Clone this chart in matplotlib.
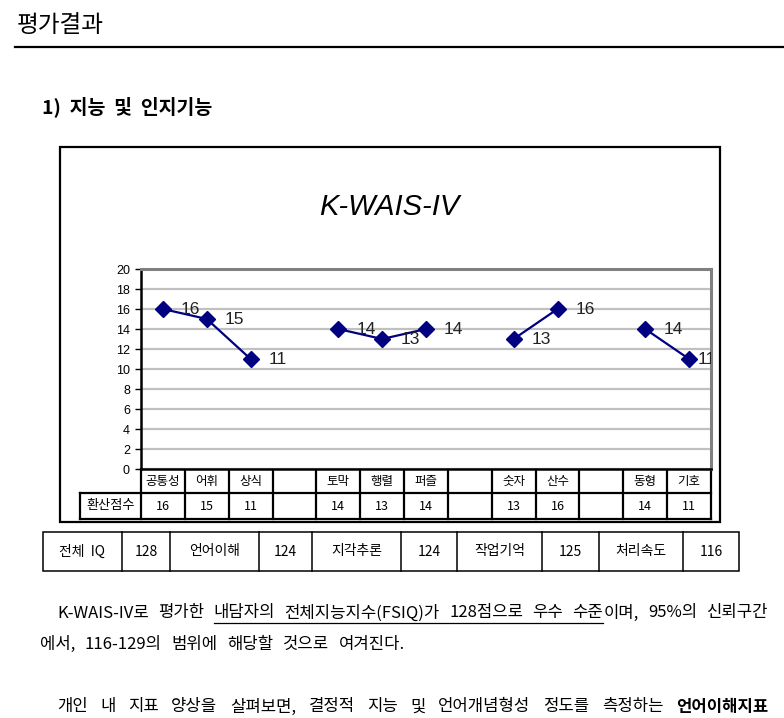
import numpy as np
import matplotlib.pyplot as plt
from matplotlib.patches import Rectangle

plt.rcParams['font.family'] = ['Noto Sans CJK KR', 'DejaVu Sans']

# data
subtests = ['공통성', '어휘', '상식', '', '토막', '행렬', '퍼즐', '', '숫자', '산수', '', '동형', '기호']
scaled = [16, 15, 11, None, 14, 13, 14, None, 13, 16, None, 14, 11]
index_names = ['전체  IQ', '언어이해', '지각추론', '작업기억', '처리속도']
index_scores = [128, 124, 124, 125, 116]

W, H = 784, 718
fig = plt.figure(figsize=(W / 100, H / 100), dpi=100)

# page layer in pixel coordinates
page = fig.add_axes([0, 0, 1, 1])
page.set_xlim(0, W)
page.set_ylim(H, 0)
page.axis('off')

page.text(17, 25, '평가결과', fontsize=17, va='center', ha='left')
page.plot([15, W], [47, 47], color='black', lw=1.6)
page.text(42, 107, '1)  지능  및  인지기능', fontsize=14, fontweight='bold', va='center', ha='left')

# chart frame
page.add_patch(Rectangle((60, 147), 660, 375, fill=False, ec='black', lw=1.6))
page.text(389, 207, 'K-WAIS-IV', fontsize=21, style='italic', family='Liberation Sans',
          ha='center', va='center')

# line chart
x0, x1, ytop, ybot = 141, 711, 269, 469
n = len(subtests)
ax = fig.add_axes([x0 / W, 1 - ybot / H, (x1 - x0) / W, (ybot - ytop) / H])
ax.set_xlim(-0.5, n - 0.5)
ax.set_ylim(0, 20)
ax.set_yticks(range(0, 21, 2))
ax.set_xticks([])
ax.grid(axis='y', color='#c0c0c0', lw=1.6)
ax.set_axisbelow(True)
for side in ['top', 'right']:
    ax.spines[side].set_color('#808080')
    ax.spines[side].set_linewidth(2.2)
for side in ['left', 'bottom']:
    ax.spines[side].set_color('black')
    ax.spines[side].set_linewidth(1.8)
ax.tick_params(axis='y', length=4, width=1, pad=4, labelsize=9)
for lab in ax.get_yticklabels():
    lab.set_family('Liberation Sans')

y = np.array([np.nan if v is None else v for v in scaled], dtype=float)
ax.plot(range(n), y, color='#000080', lw=1.6, marker='D', ms=8, zorder=3)
for i, v in enumerate(scaled):
    if v is None:
        continue
    off = 13 if i < n - 1 else 6
    ax.annotate(str(v), (i, v), xytext=(off, 0), textcoords='offset points',
                fontsize=12.5, family='Liberation Sans', color='#222222',
                ha='left', va='center', annotation_clip=False, clip_on=True)

# data table under the chart
cw = (x1 - x0) / n
r1, r2, r3 = ybot, 493, 519
hx = 80
lk = dict(color='black', lw=1.6, solid_capstyle='projecting')
page.plot([hx, x1], [r2, r2], **lk)
page.plot([hx, x1], [r3, r3], **lk)
page.plot([hx, hx], [r2, r3], **lk)
for k in range(n + 1):
    page.plot([x0 + k * cw] * 2, [r1, r3], **lk)
page.text((hx + x0) / 2, (r2 + r3) / 2, '환산점수', fontsize=9.5, ha='center', va='center')
for k, (name, v) in enumerate(zip(subtests, scaled)):
    cx = x0 + (k + 0.5) * cw
    page.text(cx, (r1 + r2) / 2, name, fontsize=9, ha='center', va='center')
    if v is not None:
        page.text(cx, (r2 + r3) / 2, str(v), fontsize=9, ha='center', va='center')

# index score table
tx = [43, 122, 170, 259, 312, 401, 457, 542, 599, 683, 739]
t0, t1 = 532, 571
page.add_patch(Rectangle((tx[0], t0), tx[-1] - tx[0], t1 - t0, fill=False, ec='black', lw=1.1))
for xv in tx[1:-1]:
    page.plot([xv, xv], [t0, t1], color='black', lw=1.1)
cells = []
for name, v in zip(index_names, index_scores):
    cells += [name, str(v)]
for k, s in enumerate(cells):
    page.text((tx[k] + tx[k + 1]) / 2, (t0 + t1) / 2, s, fontsize=10, ha='center', va='center')


# paragraph text
renderer = fig.canvas.get_renderer()


def text_line(yc, words, left, right=None, size=12):
    pieces, widths = [], []
    for word in words:
        segs = []
        for s, style in word:
            t = page.text(0, yc, s, fontsize=size, ha='left', va='center',
                          fontweight='bold' if style == 'b' else 'normal')
            segs.append((t, t.get_window_extent(renderer).width, style))
        pieces.append(segs)
        widths.append(sum(w for _, w, _ in segs))
    if right is None:
        gap = size * 0.8
    else:
        gap = (right - left - sum(widths)) / (len(words) - 1)
    x = left
    ux = []
    for segs in pieces:
        for t, w, style in segs:
            t.set_x(x)
            if style == 'u':
                ux += [x, x + w]
            x += w
        x += gap
    if ux:
        page.plot([min(ux), max(ux)], [yc + 10, yc + 10], color='black', lw=0.9)


line1 = [[('K-WAIS-IV로', '')], [('평가한', '')], [('내담자의', 'u')],
         [('전체지능지수(FSIQ)가', 'u')], [('128점으로', 'u')], [('우수', 'u')],
         [('수준', 'u'), ('이며,', '')], [('95%의', '')], [('신뢰구간', '')]]
line2 = [[(w, '')] for w in '에서, 116-129의 범위에 해당할 것으로 여겨진다.'.split()]
line3 = [[(w, '')] for w in '개인 내 지표 양상을 살펴보면, 결정적 지능 및 언어개념형성 정도를 측정하는'.split()]
line3.append([('언어이해지표', 'b')])

text_line(613, line1, 57, 768)
text_line(644, line2, 40)
text_line(707, line3, 57, 768)

fig.savefig('out.png', dpi=100)
